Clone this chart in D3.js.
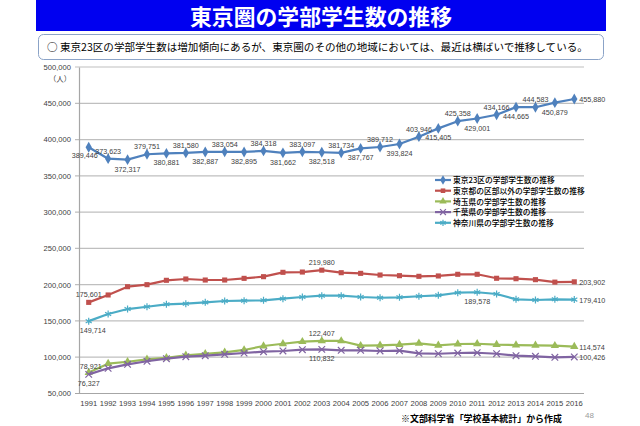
<!DOCTYPE html>
<html>
<head>
<meta charset="utf-8">
<script src="https://cdn.jsdelivr.net/npm/d3@7"></script>
<style>
  body { margin: 0; background: #fff; }
  svg { display: block; }
</style>
</head>
<body>
<div id="chartWrap"></div>
<script>
// categories
const years = d3.range(1991, 2017).map(String);

// series values
const tokyo23 = [389446, 373623, 372317, 379751, 380881, 381580, 382887, 383054, 382895, 384318,
  381662, 383097, 382518, 381734, 387767, 389712, 393824, 403946, 415405, 425358,
  429001, 434166, 444665, 444583, 450879, 455880];
const tokyoOther = [175601, 185800, 197200, 200000, 206000, 207800, 206400, 206400, 208700, 211000,
  217000, 217400, 219980, 216500, 215600, 213300, 212400, 211500, 212000, 214300,
  214300, 208800, 208200, 206900, 203500, 203902];
const saitama = [78921, 91100, 93800, 97100, 99300, 102600, 104800, 106800, 110000, 115500,
  118600, 121400, 122407, 122400, 115900, 116400, 117300, 119200, 116400, 118200,
  118600, 117300, 116800, 116400, 115900, 114574];
const chiba = [76327, 84700, 90200, 94400, 98000, 100700, 102100, 104000, 105800, 107600,
  108600, 110400, 110832, 109500, 109500, 108600, 109000, 105400, 104800, 105800,
  106200, 104800, 102100, 101300, 99900, 100426];
const kanagawa = [149714, 159600, 166400, 169600, 172900, 173800, 175600, 177500, 177900, 178400,
  180700, 183000, 184800, 184800, 183000, 182000, 182600, 184000, 185300, 188900,
  189578, 187100, 179800, 178900, 179800, 179410];

const yTicks = d3.range(50000, 500001, 50000);

const seriesNames = [
  '東京23区の学部学生数の推移',
  '東京都の区部以外の学部学生数の推移',
  '埼玉県の学部学生数の推移',
  '千葉県の学部学生数の推移',
  '神奈川県の学部学生数の推移',
];

// which points carry a value label, and where it goes
const series = [
  { name: seriesNames[0], values: tokyo23, color: '#4F81BD', symbol: d3.symbolDiamond, size: 34, stroke: false,
    labels: years.map((d, i) => (i === 0 ? 'belowLeft' : i === 25 ? 'right' : i % 2 ? 'above' : 'below')) },
  { name: seriesNames[1], values: tokyoOther, color: '#C0504D', symbol: d3.symbolSquare, size: 26, stroke: false,
    labels: { 0: 'above', 12: 'above', 25: 'right' } },
  { name: seriesNames[2], values: saitama, color: '#9BBB59', symbol: d3.symbolTriangle, size: 30, stroke: false,
    labels: { 0: 'aboveNear', 12: 'above', 25: 'right' } },
  { name: seriesNames[3], values: chiba, color: '#8064A2', symbol: d3.symbolTimes, size: 30, stroke: true,
    labels: { 0: 'below', 12: 'below', 25: 'right' } },
  { name: seriesNames[4], values: kanagawa, color: '#4BACC6', symbol: d3.symbolAsterisk, size: 34, stroke: true,
    labels: { 0: 'belowRight', 20: 'below', 25: 'right' } },
];

const W = 640, H = 426;
const numFont = '"Liberation Sans", Arial, sans-serif';
const jpFont = '"Noto Sans CJK JP", "Noto Sans", sans-serif';

const svg = d3.select('#chartWrap').append('svg')
  .attr('width', W).attr('height', H);

// shrink / grow a text so it spans the width seen in the reference
const fitWidth = (sel, target) => {
  const w = sel.node().getComputedTextLength();
  const fs = parseFloat(sel.style('font-size'));
  if (w > 0) sel.style('font-size', `${(fs * target) / w}px`);
  return parseFloat(sel.style('font-size'));
};

// title bar
svg.append('rect')
  .attr('x', 36).attr('y', 0).attr('width', 570).attr('height', 31)
  .attr('fill', '#0000F0');
const title = svg.append('text')
  .attr('x', 321).attr('y', 25)
  .attr('text-anchor', 'middle')
  .style('font-family', jpFont).style('font-weight', 'bold').style('font-size', '21px')
  .attr('fill', '#fff')
  .text('東京圏の学部学生数の推移');
fitWidth(title, 262);

// summary box
svg.append('rect')
  .attr('x', 38.5).attr('y', 34.5).attr('width', 565).attr('height', 25).attr('rx', 5)
  .attr('fill', '#fff').attr('stroke', '#8BA3C7').attr('stroke-width', 1);
const sub = svg.append('text')
  .attr('x', 47).attr('y', 51)
  .style('font-family', jpFont).style('font-size', '10.4px')
  .attr('fill', '#000')
  .text('○ 東京23区の学部学生数は増加傾向にあるが、東京圏のその他の地域においては、最近は横ばいで推移している。');
fitWidth(sub, 541);

// scales
const x = d3.scaleBand().domain(years).range([79, 584]);
const px = (d) => x(d) + x.bandwidth() / 2;
const y = d3.scaleLinear().domain([50000, 500000]).range([393.5, 67]);

// gridlines
svg.append('g')
  .selectAll('line')
  .data(yTicks)
  .enter()
  .append('line')
  .attr('x1', 75).attr('x2', 584)
  .attr('y1', (d) => y(d)).attr('y2', (d) => y(d))
  .attr('stroke', (d) => (d === 50000 ? '#A6A6A6' : '#BFBFBF'))
  .attr('stroke-width', 1.2);

// y axis
const yAxis = svg.append('g')
  .attr('transform', 'translate(79,0)')
  .call(d3.axisLeft(y).tickValues(yTicks).tickFormat(d3.format(',')).tickSize(0).tickPadding(8));
yAxis.select('.domain').attr('stroke', '#A6A6A6').attr('stroke-width', 1.2);
yAxis.selectAll('text')
  .style('font-family', numFont).style('font-size', '7.6px').attr('fill', '#404040');

svg.append('text')
  .attr('x', 60).attr('y', 82)
  .attr('text-anchor', 'middle')
  .style('font-family', jpFont).style('font-size', '7.5px').attr('fill', '#404040')
  .text('（人）');

// x axis
const xAxis = svg.append('g')
  .attr('transform', `translate(0,${y(50000)})`)
  .call(d3.axisBottom(x).tickSize(0).tickPadding(7));
xAxis.select('.domain').remove();
xAxis.selectAll('text')
  .style('font-family', numFont).style('font-size', '7.6px').attr('fill', '#404040');

// lines + markers
const line = d3.line().x((d, i) => px(years[i])).y((d) => y(d));

series.forEach((s) => {
  svg.append('path')
    .datum(s.values)
    .attr('d', line)
    .attr('fill', 'none')
    .attr('stroke', s.color)
    .attr('stroke-width', 2.2)
    .attr('stroke-linejoin', 'round');

  svg.append('g')
    .selectAll('path')
    .data(s.values)
    .enter()
    .append('path')
    .attr('transform', (d, i) => `translate(${px(years[i])},${y(d)})`)
    .attr('d', d3.symbol().type(s.symbol).size(s.size))
    .attr('fill', s.stroke ? 'none' : s.color)
    .attr('stroke', s.stroke ? s.color : 'none')
    .attr('stroke-width', 1.2);
});

// value labels
const fmt = d3.format(',');
const offsets = {
  above: [0, -5, 'middle'],
  aboveNear: [2, -4, 'middle'],
  below: [0, 12, 'middle'],
  belowLeft: [-4, 11, 'middle'],
  belowRight: [4, 12, 'middle'],
  right: [5, 3, 'start'],
};
series.forEach((s) => {
  const items = [];
  s.values.forEach((v, i) => {
    const pos = s.labels[i];
    if (pos) items.push({ v, i, pos });
  });
  svg.append('g')
    .selectAll('text')
    .data(items)
    .enter()
    .append('text')
    .attr('x', (d) => px(years[d.i]) + offsets[d.pos][0])
    .attr('y', (d) => y(d.v) + offsets[d.pos][1])
    .attr('text-anchor', (d) => offsets[d.pos][2])
    .style('font-family', numFont).style('font-size', '7.2px').attr('fill', '#404040')
    .text((d) => fmt(d.v));
});

// legend
const legend = svg.append('g').attr('transform', 'translate(435,180)');
const legendTexts = [];
series.forEach((s, i) => {
  const g = legend.append('g').attr('transform', `translate(0,${i * 10.7})`);
  g.append('line')
    .attr('x1', 0).attr('x2', 16)
    .attr('stroke', s.color).attr('stroke-width', 2.2);
  g.append('path')
    .attr('transform', 'translate(8,0)')
    .attr('d', d3.symbol().type(s.symbol).size(s.size * 0.8))
    .attr('fill', s.stroke ? 'none' : s.color)
    .attr('stroke', s.stroke ? s.color : 'none')
    .attr('stroke-width', 1.2);
  legendTexts.push(g.append('text')
    .attr('x', 18).attr('y', 3.2)
    .style('font-family', jpFont).style('font-size', '8px').style('font-weight', 500)
    .attr('fill', '#000')
    .text(s.name));
});
// the longest entry sets one size for all
const legendSize = fitWidth(legendTexts[1], 132);
legendTexts.forEach((t) => t.style('font-size', `${legendSize}px`));

// source + page number
const src = svg.append('text')
  .attr('x', 401).attr('y', 422)
  .style('font-family', jpFont).style('font-weight', 'bold').style('font-size', '8.6px')
  .attr('fill', '#000')
  .text('※文部科学省「学校基本統計」から作成');
fitWidth(src, 161);
svg.append('text')
  .attr('x', 585).attr('y', 418)
  .style('font-family', numFont).style('font-size', '8px').attr('fill', '#9A9A9A')
  .text('48');
</script>
</body>
</html>
